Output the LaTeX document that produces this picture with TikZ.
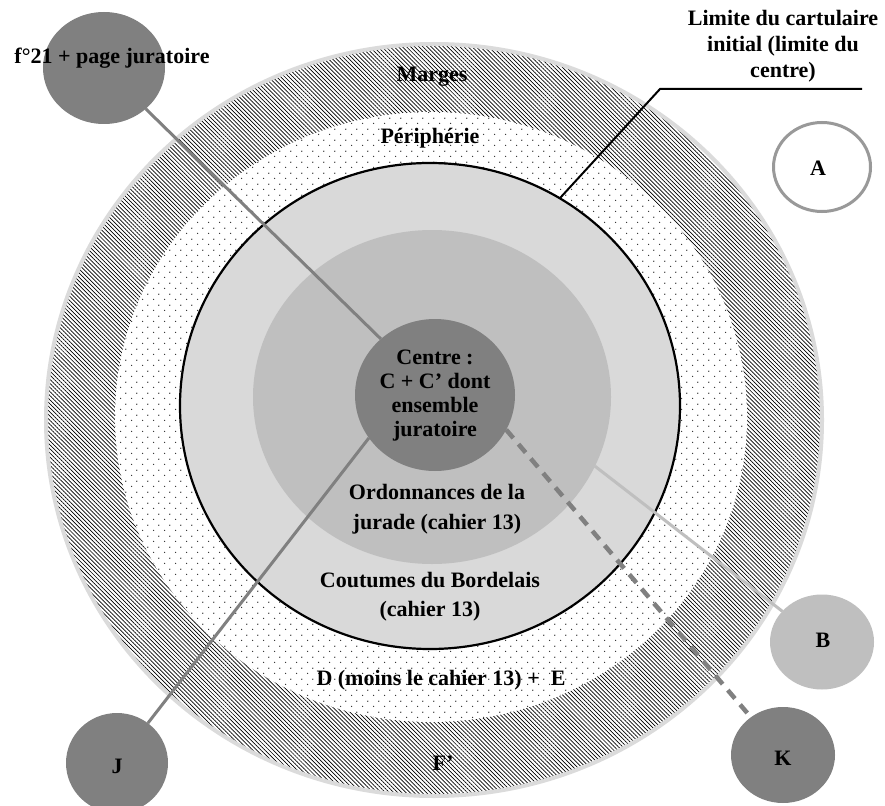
\documentclass[tikz,border=0pt]{standalone}
\usepackage{fontspec}
\setmainfont{Liberation Serif}
\usetikzlibrary{shapes.geometric,patterns,patterns.meta}
\pgfdeclarelayer{rings}
\pgfdeclarelayer{links}
\pgfsetlayers{rings,links,main}
\tikzdeclarepattern{
  name=peridots,
  type=uncolored,
  bounding box={(0pt,0pt) and (10.7pt,10.7pt)},
  tile size={(10.7pt,10.7pt)},
  code={
    \pgfpathcircle{\pgfpoint{2.7pt}{2.7pt}}{0.75pt}
    \pgfpathcircle{\pgfpoint{8.05pt}{8.05pt}}{0.75pt}
    \pgfusepath{fill}
  }
}
\begin{document}
\begin{tikzpicture}[x=1pt,y=-1pt,
  disc/.style={ellipse, inner sep=0pt, outer sep=0pt},
  outerring/.style={disc, minimum width=776pt, minimum height=752pt,
    preaction={fill=white}, pattern={Lines[angle=-45,distance=2.9pt,line width=0.7pt]},
    pattern color=black, draw=black!14, line width=4pt},
  periring/.style={disc, minimum width=632pt, minimum height=610pt,
    preaction={fill=white}, pattern=peridots, pattern color=black!85},
  lgring/.style={disc, minimum width=500pt, minimum height=486pt,
    fill=black!15, draw=black, line width=2.2pt},
  medring/.style={disc, minimum width=358pt, minimum height=334pt, fill=black!25},
  darkdisc/.style={disc, fill=black!50},
  lightdisc/.style={disc, fill=black!25},
  whitedisc/.style={disc, fill=white, draw=black!40, line width=3pt},
  txt/.style={inner sep=0pt, align=center, text=black,
    font=\fontsize{22}{24}\selectfont\bfseries},
  linkdark/.style={draw=black!50, line width=3pt},
  linklight/.style={draw=black!25, line width=3pt},
  linkdash/.style={draw=black!50, line width=4.5pt, dash pattern=on 11pt off 8pt},
  limite/.style={draw=black, line width=2pt}
]
\useasboundingbox (0,0) rectangle (885,805);
\begin{pgfonlayer}{rings}
  \fill[white] (0,0) rectangle (885,805);
  \node[outerring] (outer) at (434,420) {};
  \node[periring] (peri) at (431,417) {};
  \node[lgring] (lg) at (430,406) {};
  \node[medring] (med) at (432,397) {};
\end{pgfonlayer}

% discs
\node[darkdisc, minimum width=160pt, minimum height=152pt] (centre) at (435,395) {};
\node[darkdisc, minimum width=122pt, minimum height=112pt] (f21) at (104,68) {};
\node[whitedisc, minimum width=97pt, minimum height=89pt] (A) at (822,167) {};
\node[lightdisc, minimum width=104pt, minimum height=95pt] (B) at (822,642) {};
\node[darkdisc, minimum width=104pt, minimum height=96pt] (K) at (783,755) {};
\node[darkdisc, minimum width=102pt, minimum height=100pt] (J) at (117,763) {};

\coordinate (lim1) at (660,89);
\coordinate (lim2) at (862,89);

\begin{pgfonlayer}{links}
  \draw[linkdark] (f21) -- (centre.134);
  \draw[linkdark] (J) -- (centre.213);
  \draw[linklight] (med.-23.5) -- (B);
  \draw[linkdash] (centre.-26) -- (K);
  \draw[limite] (lg.58.5) -- (lim1) -- (lim2);
\end{pgfonlayer}

% texts
\node[txt] (tf21) at (112,58) {f°21 + page juratoire};
\node[txt, font=\fontsize{22}{26}\selectfont\bfseries] (tlim) at (783,46) {Limite du cartulaire\\initial (limite du\\centre)};
\node[txt] (tmarges) at (432,77) {Marges};
\node[txt] (tperi) at (430,138) {Périphérie};
\node[txt] (tA) at (818,168) {A};
\node[txt] (tcentre) at (435,396) {Centre :\\C + C’ dont\\ensemble\\juratoire};
\node[txt, font=\fontsize{22}{30}\selectfont\bfseries] (tord) at (437,509) {Ordonnances de la\\jurade (cahier 13)};
\node[txt, font=\fontsize{22}{29}\selectfont\bfseries] (tcout) at (430,597) {Coutumes du Bordelais\\(cahier 13)};
\node[txt] (tB) at (823,640) {B};
\node[txt] (tD) at (441,680) {D (moins le cahier 13) +\ \ E};
\node[txt] (tF) at (443,763) {F’};
\node[txt] (tJ) at (117,766) {J};
\node[txt] (tK) at (783,758) {K};
\end{tikzpicture}
\end{document}
